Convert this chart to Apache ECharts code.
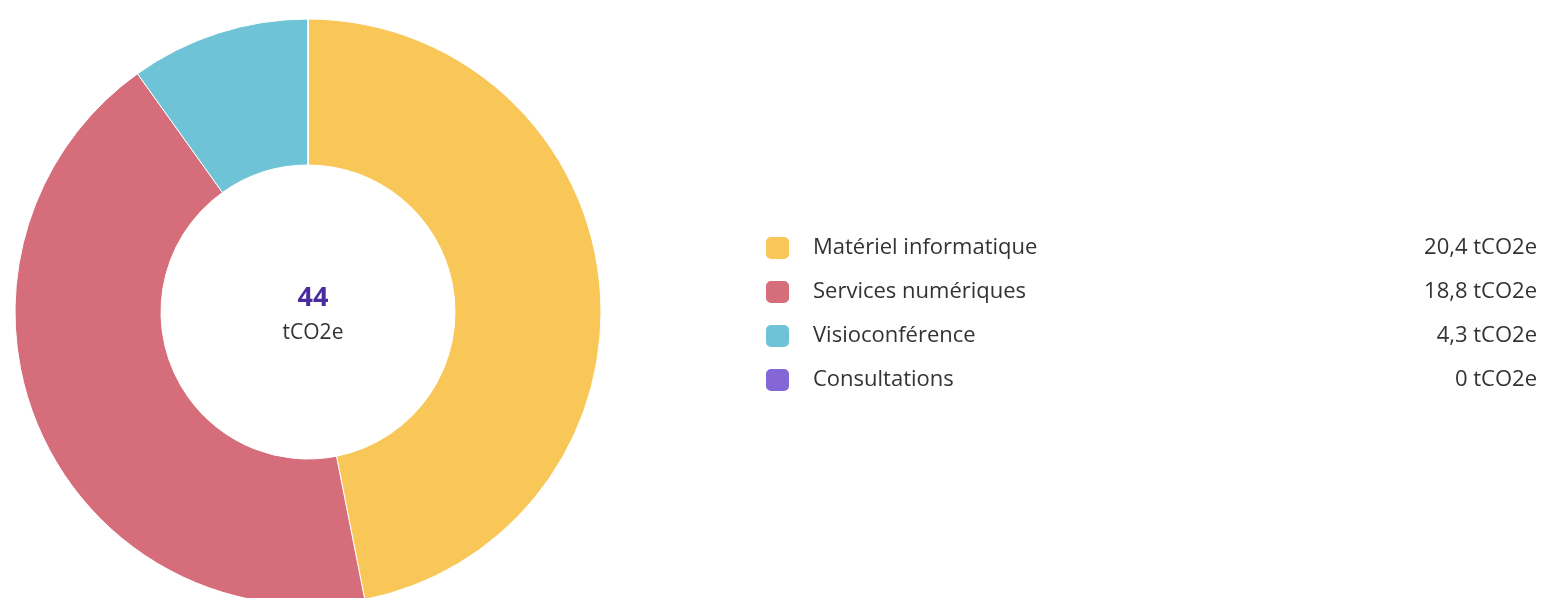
<!DOCTYPE html>
<html>
<head>
<meta charset="utf-8">
<script src="https://cdn.jsdelivr.net/npm/echarts@6/dist/echarts.min.js"></script>
<style>
  html, body { margin: 0; padding: 0; background: #fff; }
  #chart { width: 1545px; height: 598px; }
</style>
</head>
<body>
<div id="chart"></div>
<script>
const categories = ['Matériel informatique', 'Services numériques', 'Visioconférence', 'Consultations'];
const values = [20.4, 18.8, 4.3, 0];
const colors = ['#F8C757', '#D66D7B', '#6FC3D6', '#8566D6'];
const unit = 'tCO2e';

const total = Math.round(values.reduce((a, b) => a + b, 0));

function fmt(v) {
  return String(v).replace('.', ',');
}

const chart = echarts.init(document.getElementById('chart'));

const option = {
  animation: false,
  color: colors,
  title: {
    text: String(total),
    subtext: unit,
    left: 308,
    top: 280,
    textAlign: 'center',
    itemGap: 11,
    textStyle: {
      color: '#4B2BA0',
      fontSize: 27,
      fontWeight: 'bold',
      fontFamily: 'Open Sans'
    },
    subtextStyle: {
      color: '#333',
      fontSize: 21,
      fontFamily: 'Open Sans'
    }
  },
  legend: {
    orient: 'vertical',
    left: 759,
    top: 230,
    icon: 'roundRect',
    itemWidth: 25,
    itemHeight: 24,
    itemGap: 18,
    selectedMode: false,
    data: categories,
    formatter: function (name) {
      const i = categories.indexOf(name);
      return '{name|' + name + '}{val|' + fmt(values[i]) + ' ' + unit + '}';
    },
    textStyle: {
      padding: [0, 0, 0, 18],
      rich: {
        name: {
          width: 600,
          fontSize: 22,
          fontFamily: 'Open Sans',
          color: '#333',
          lineHeight: 24
        },
        val: {
          width: 124,
          align: 'right',
          fontSize: 22,
          fontFamily: 'Open Sans',
          color: '#333',
          lineHeight: 24
        }
      }
    }
  },
  series: [
    {
      type: 'pie',
      center: [308, 312],
      radius: [147, 293],
      startAngle: 90,
      clockwise: true,
      avoidLabelOverlap: false,
      label: { show: false },
      labelLine: { show: false },
      itemStyle: {
        borderColor: '#fff',
        borderWidth: 1
      },
      data: categories.map((c, i) => ({ name: c, value: values[i] }))
    }
  ]
};

chart.setOption(option);
</script>
</body>
</html>
